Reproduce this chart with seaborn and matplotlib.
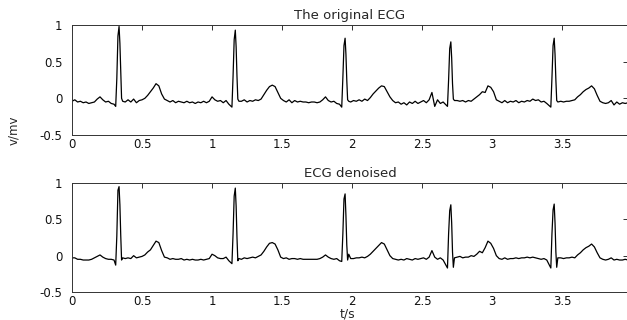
import matplotlib
matplotlib.use('Agg')
import matplotlib.pyplot as plt
import numpy as np
import pandas as pd
import seaborn as sns
from matplotlib.ticker import FuncFormatter

# tempo (s) - amostras, segmento a segmento
t_s = [
    # antes do 1o batimento
    0.00, 0.02, 0.04, 0.06, 0.08, 0.10, 0.12, 0.14, 0.16, 0.18, 0.20, 0.22, 0.24, 0.26, 0.28, 0.30,
    # QRS 1
    0.312, 0.320, 0.328, 0.336, 0.342, 0.348, 0.354, 0.362,
    0.38, 0.40, 0.42, 0.44, 0.46, 0.48, 0.50, 0.52, 0.54, 0.56, 0.58, 0.60, 0.62, 0.64, 0.66, 0.68,
    0.70, 0.72, 0.74, 0.76, 0.78, 0.80, 0.82, 0.84, 0.86, 0.88, 0.90, 0.92, 0.94, 0.96, 0.98, 1.00,
    1.02, 1.04, 1.06, 1.08, 1.10, 1.12,
    # QRS 2
    1.142, 1.150, 1.158, 1.166, 1.172, 1.178, 1.184, 1.192,
    1.21, 1.23, 1.25, 1.27, 1.29, 1.31, 1.33, 1.35, 1.37, 1.39, 1.41, 1.43, 1.45, 1.47, 1.49, 1.51,
    1.53, 1.55, 1.57, 1.59, 1.61, 1.63, 1.65, 1.67, 1.69, 1.71, 1.73, 1.75, 1.77, 1.79, 1.81, 1.83,
    1.85, 1.87, 1.89, 1.91,
    # QRS 3
    1.926, 1.934, 1.942, 1.950, 1.956, 1.962, 1.968, 1.976,
    1.99, 2.01, 2.03, 2.05, 2.07, 2.09, 2.11, 2.13, 2.15, 2.17, 2.19, 2.21, 2.23, 2.25, 2.27, 2.29,
    2.31, 2.33, 2.35, 2.37, 2.39, 2.41, 2.43, 2.45, 2.47, 2.49, 2.51, 2.53, 2.55, 2.57, 2.59, 2.61,
    2.63, 2.65,
    # QRS 4
    2.681, 2.689, 2.697, 2.705, 2.711, 2.717, 2.723, 2.731,
    2.75, 2.77, 2.79, 2.81, 2.83, 2.85, 2.87, 2.89, 2.91, 2.93, 2.95, 2.97, 2.99, 3.01, 3.03, 3.05,
    3.07, 3.09, 3.11, 3.13, 3.15, 3.17, 3.19, 3.21, 3.23, 3.25, 3.27, 3.29, 3.31, 3.33, 3.35, 3.37,
    3.39,
    # QRS 5
    3.419, 3.427, 3.435, 3.443, 3.449, 3.455, 3.461, 3.469,
    3.49, 3.51, 3.53, 3.55, 3.57, 3.59, 3.61, 3.63, 3.65, 3.67, 3.69, 3.71, 3.73, 3.75, 3.77, 3.79,
    3.81, 3.83, 3.85, 3.87, 3.89, 3.91, 3.93, 3.95, 3.97,
]

# ECG original (mV)
v_orig = [
    -0.04, -0.02, -0.05, -0.04, -0.06, -0.05, -0.07, -0.06, -0.05, -0.01, 0.02, -0.02, -0.05, -0.04, -0.07, -0.08,
    -0.11, 0.27, 0.85, 0.98, 0.75, 0.35, 0.00, -0.04,
    -0.05, -0.02, -0.05, -0.01, -0.06, -0.03, -0.02, 0.00, 0.04, 0.09, 0.14, 0.20, 0.17, 0.06, -0.01, -0.03,
    -0.05, -0.03, -0.06, -0.04, -0.05, -0.06, -0.04, -0.06, -0.05, -0.07, -0.05, -0.06, -0.04, -0.06, -0.04, 0.02,
    -0.02, -0.04, -0.03, -0.06, -0.03, -0.08,
    -0.12, 0.30, 0.80, 0.93, 0.70, 0.30, -0.01, -0.04,
    -0.04, -0.02, -0.05, -0.03, -0.04, -0.02, -0.03, -0.01, 0.05, 0.11, 0.16, 0.18, 0.16, 0.08, 0.00, -0.03,
    -0.05, -0.02, -0.06, -0.03, -0.05, -0.04, -0.05, -0.05, -0.06, -0.05, -0.05, -0.06, -0.05, -0.02, 0.02, -0.03,
    -0.05, -0.04, -0.07, -0.08,
    -0.12, 0.28, 0.72, 0.82, 0.60, 0.25, -0.02, -0.04,
    -0.05, -0.03, -0.04, -0.02, -0.04, -0.01, -0.03, 0.01, 0.06, 0.10, 0.14, 0.17, 0.16, 0.09, 0.02, -0.03,
    -0.06, -0.05, -0.08, -0.06, -0.09, -0.05, -0.07, -0.04, -0.07, -0.05, -0.03, -0.06, -0.02, 0.08, -0.11, -0.02,
    -0.07, -0.05,
    -0.11, 0.25, 0.68, 0.77, 0.55, 0.20, -0.01, -0.03,
    -0.03, -0.04, -0.03, -0.05, -0.03, -0.04, -0.01, 0.02, 0.05, 0.09, 0.08, 0.17, 0.15, 0.09, -0.02, -0.04,
    -0.06, -0.03, -0.06, -0.04, -0.05, -0.03, -0.06, -0.04, -0.05, -0.03, -0.04, -0.01, -0.03, -0.02, -0.05, -0.04,
    -0.07,
    -0.12, 0.28, 0.72, 0.82, 0.60, 0.25, -0.03, -0.05,
    -0.04, -0.05, -0.04, -0.04, -0.03, -0.02, 0.02, 0.05, 0.09, 0.12, 0.14, 0.17, 0.13, 0.04, -0.04, -0.06,
    -0.07, -0.06, -0.03, -0.09, -0.05, -0.08, -0.06, -0.07, -0.06,
]

# ECG filtrado (mV)
v_den = [
    -0.03, -0.03, -0.05, -0.05, -0.06, -0.06, -0.06, -0.05, -0.03, -0.01, 0.01, -0.02, -0.04, -0.05, -0.05, -0.06,
    -0.13, 0.27, 0.90, 0.95, 0.70, 0.28, -0.06, -0.03,
    -0.04, -0.03, -0.04, 0.00, -0.03, -0.02, -0.01, 0.01, 0.05, 0.08, 0.14, 0.20, 0.18, 0.07, -0.02, -0.03,
    -0.05, -0.04, -0.05, -0.05, -0.04, -0.06, -0.05, -0.06, -0.05, -0.06, -0.06, -0.05, -0.06, -0.05, -0.04, 0.02,
    0.00, -0.03, -0.04, -0.04, -0.02, -0.07,
    -0.11, 0.30, 0.82, 0.93, 0.68, 0.25, -0.07, -0.04,
    -0.05, -0.03, -0.04, -0.03, -0.02, -0.03, -0.01, 0.01, 0.06, 0.12, 0.17, 0.18, 0.16, 0.08, -0.02, -0.04,
    -0.03, -0.05, -0.04, -0.04, -0.05, -0.04, -0.05, -0.05, -0.05, -0.05, -0.05, -0.05, -0.04, -0.02, 0.01, -0.02,
    -0.04, -0.05, -0.04, -0.07,
    -0.08, 0.30, 0.78, 0.85, 0.55, 0.15, -0.06, 0.02,
    -0.04, -0.04, -0.03, -0.03, -0.02, -0.03, -0.01, 0.02, 0.06, 0.10, 0.14, 0.18, 0.16, 0.08, 0.00, -0.04,
    -0.05, -0.06, -0.05, -0.06, -0.04, -0.05, -0.06, -0.04, -0.05, -0.04, -0.03, -0.05, -0.02, 0.07, -0.02, -0.05,
    -0.03, -0.06,
    -0.17, 0.30, 0.62, 0.70, 0.45, 0.05, -0.16, -0.03,
    -0.02, -0.01, -0.03, -0.02, -0.02, 0.00, -0.01, 0.02, 0.06, 0.04, 0.11, 0.20, 0.17, 0.10, 0.00, -0.04,
    -0.05, -0.03, -0.05, -0.04, -0.04, -0.03, -0.04, -0.03, -0.03, -0.02, -0.03, -0.02, -0.03, -0.04, -0.05, -0.04,
    -0.06,
    -0.17, 0.30, 0.63, 0.71, 0.45, 0.05, -0.16, -0.03,
    -0.03, -0.04, -0.03, -0.03, -0.02, -0.03, 0.01, 0.04, 0.08, 0.11, 0.13, 0.16, 0.12, 0.04, -0.03, -0.05,
    -0.06, -0.05, -0.03, -0.06, -0.05, -0.06, -0.06, -0.05, -0.06,
]

x_ticks = [0, 0.5, 1, 1.5, 2, 2.5, 3, 3.5]
y_ticks = [-0.5, 0, 0.5, 1]
titles = ['The original ECG', 'ECG denoised']

assert len(t_s) == len(v_orig) == len(v_den)

df = pd.DataFrame({'t': t_s, 'orig': v_orig, 'den': v_den})

sns.set_style('white')
plt.rcParams['font.family'] = ['DejaVu Sans']
plt.rcParams['axes.unicode_minus'] = False

W, H = 627, 320
fig = plt.figure(figsize=(W / 100, H / 100), dpi=100)

# posicoes em pixels: (esquerda, topo, largura, altura)
caixas = [(72, 25, 556, 110), (72, 183, 556, 109)]
colunas = ['orig', 'den']

fmt = FuncFormatter(lambda v, p: '%g' % v)

for (x0, y0, w, h), col, titulo in zip(caixas, colunas, titles):
    ax = fig.add_axes([x0 / W, 1 - (y0 + h) / H, w / W, h / H])
    sns.lineplot(data=df, x='t', y=col, ax=ax, color='black', linewidth=0.9,
                 estimator=None, sort=False)
    ax.set_xlim(0, 3.97)
    ax.set_ylim(-0.5, 1)
    ax.set_xticks(x_ticks)
    ax.set_yticks(y_ticks)
    ax.xaxis.set_major_formatter(fmt)
    ax.yaxis.set_major_formatter(fmt)
    ax.set_xlabel('')
    ax.set_ylabel('')
    ax.tick_params(direction='in', top=True, right=True, length=3.5, width=0.6,
                   labelsize=8.5, colors='#111111')
    ax.tick_params(axis='y', pad=7)
    ax.tick_params(axis='x', pad=2.5)
    for s in ax.spines.values():
        s.set_color('#333333')
        s.set_linewidth(0.7)
    ax.set_title(titulo, fontsize=9.5, pad=4)

fig.text(14 / W, 1 - 130 / H, 'v/mv', rotation=90, ha='center', va='center', fontsize=8.5)
fig.text(348 / W, 1 - 314 / H, 't/s', ha='center', va='center', fontsize=9)

fig.savefig('out.png', dpi=100, facecolor='white')
